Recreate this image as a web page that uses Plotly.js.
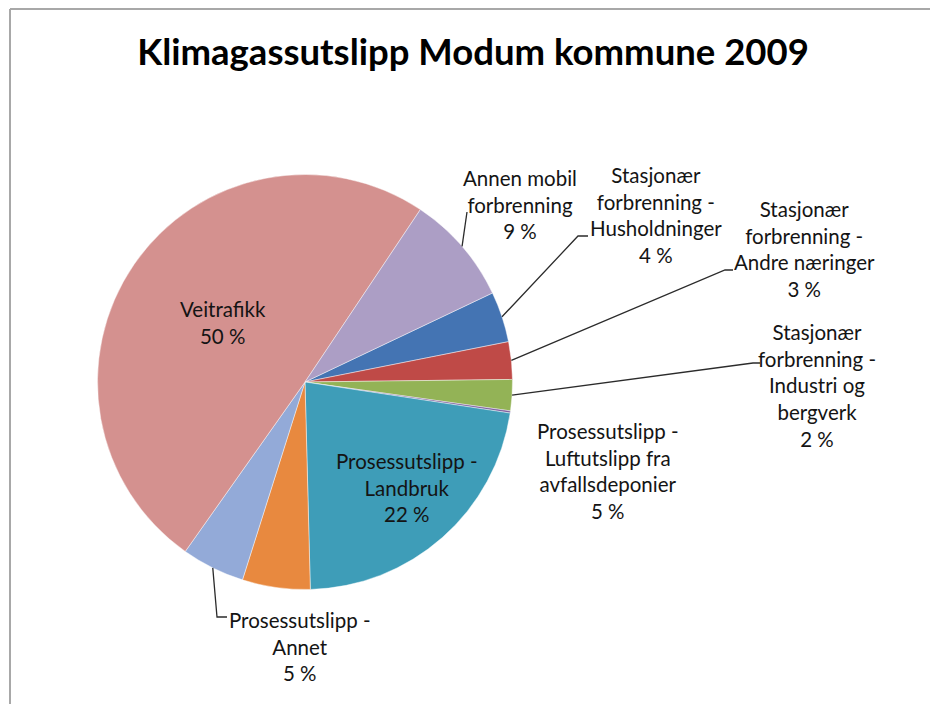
<!DOCTYPE html>
<html>
<head>
<meta charset="utf-8">
<script src="https://cdn.plot.ly/plotly-3.0.1.min.js"></script>
<style>
  html, body { margin: 0; padding: 0; background: #ffffff; }
  #chart { width: 930px; height: 704px; }
</style>
</head>
<body>
<div id="chart"></div>
<script>
// ---- Data (clockwise order, starting after "Annen mobil forbrenning") ----
const categories = [
  'Stasjonær forbrenning - Husholdninger',
  'Stasjonær forbrenning - Andre næringer',
  'Stasjonær forbrenning - Industri og bergverk',
  'Prosessutslipp - Industri og bergverk',
  'Prosessutslipp - Landbruk',
  'Prosessutslipp - Luftutslipp fra avfallsdeponier',
  'Prosessutslipp - Annet',
  'Veitrafikk',
  'Annen mobil forbrenning'
];
const labelText = [
  'Stasjonær<br>forbrenning -<br>Husholdninger',
  'Stasjonær<br>forbrenning -<br>Andre næringer',
  'Stasjonær<br>forbrenning -<br>Industri og<br>bergverk',
  '',
  'Prosessutslipp -<br>Landbruk',
  'Prosessutslipp -<br>Luftutslipp fra<br>avfallsdeponier',
  'Prosessutslipp -<br>Annet',
  'Veitrafikk',
  'Annen mobil<br>forbrenning'
];
const shares = [3.94, 2.92, 2.42, 0.17, 22.2, 5.28, 4.92, 49.6, 8.56];
const colors = ['#4474B3', '#BF4A47', '#93B356', '#7F62A0', '#3E9DB8',
                '#E8893F', '#93AAD8', '#D4918F', '#AC9EC5'];

// ---- Layout constants (pixels) ----
const W = 930, H = 704;
const cx = 305, cy = 382, R = 207.5;
const startAngle = 64.6;           // degrees clockwise from 12 o'clock
// label centres [x, y] in px; null = no label
const labelPos = [[656, 215], [804, 249], [817, 385], null, [407, 487],
                  [608, 471], [300, 646], [223, 322], [520, 204]];
// leader line bend points (after the slice tip), px
const leaderPts = [
  [[578, 236], [588, 236]],
  [[725, 270], [733, 270]],
  [[753, 363], [760, 363]],
  null, null, null,
  [[217, 617], [227, 617]],
  null,
  [[467, 212]]
];

const px = x => x / W;
const py = y => 1 - y / H;

const total = shares.reduce((a, b) => a + b, 0);
const pctText = shares.map(v => Math.round(v / total * 100) + ' %');

// slice mid angles for leader line tips
let cum = 0;
const midAngle = shares.map(v => {
  const a = startAngle + (cum + v / 2) / total * 360;
  cum += v;
  return a * Math.PI / 180;
});

const annotations = [];
const shapes = [];
labelText.forEach((t, i) => {
  if (!labelPos[i] || !t) return;
  annotations.push({
    xref: 'paper', yref: 'paper',
    x: px(labelPos[i][0]), y: py(labelPos[i][1]),
    xanchor: 'center', yanchor: 'middle',
    text: t + '<br>' + pctText[i],
    showarrow: false, align: 'center',
    font: { family: 'Lato, "Open Sans", sans-serif', size: 20.5, color: '#141414' }
  });
  if (leaderPts[i]) {
    const tx = cx + R * Math.sin(midAngle[i]);
    const ty = cy - R * Math.cos(midAngle[i]);
    let d = 'M ' + px(tx) + ' ' + py(ty);
    leaderPts[i].forEach(p => { d += ' L ' + px(p[0]) + ' ' + py(p[1]); });
    shapes.push({ type: 'path', xref: 'paper', yref: 'paper', path: d,
                  line: { color: '#2b2b2b', width: 1.3 } });
  }
});

// chart-area border (top and left visible)
shapes.push({ type: 'line', xref: 'paper', yref: 'paper',
  x0: px(10), y0: py(9), x1: px(935), y1: py(9), line: { color: '#A8A8A8', width: 2 } });
shapes.push({ type: 'line', xref: 'paper', yref: 'paper',
  x0: px(10), y0: py(9), x1: px(10), y1: py(710), line: { color: '#A8A8A8', width: 2 } });

const data = [{
  type: 'pie',
  labels: categories,
  values: shares,
  sort: false,
  direction: 'clockwise',
  rotation: startAngle,
  textinfo: 'none',
  hoverinfo: 'label+percent',
  marker: { colors: colors, line: { color: 'rgba(255,255,255,0.55)', width: 0.8 } },
  domain: { x: [px(cx - R), px(cx + R)], y: [py(cy + R), py(cy - R)] },
  showlegend: false
}];

const layout = {
  width: W, height: H,
  margin: { l: 0, r: 0, t: 0, b: 0 },
  paper_bgcolor: '#ffffff',
  showlegend: false,
  title: {
    text: 'Klimagassutslipp Modum kommune 2009',
    x: px(473), xanchor: 'center', xref: 'paper',
    y: py(52), yanchor: 'middle', yref: 'paper',
    font: { family: 'Lato, "Open Sans", sans-serif', size: 36.5, weight: 700, color: '#000000' }
  },
  annotations: annotations,
  shapes: shapes
};

Plotly.newPlot('chart', data, layout, { staticPlot: true });
</script>
</body>
</html>
